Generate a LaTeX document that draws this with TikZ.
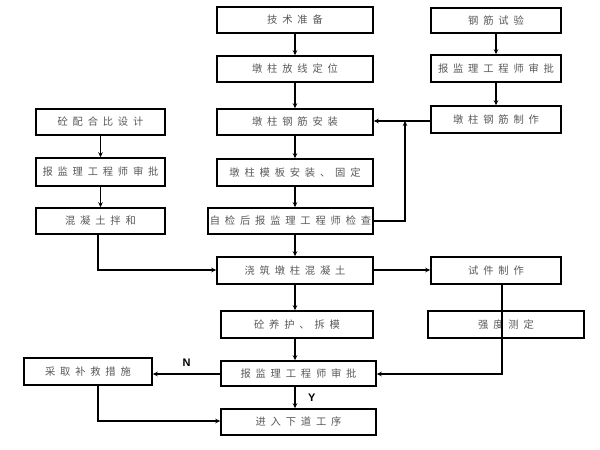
\documentclass[tikz,border=0pt]{standalone}
\usepackage{fontspec}
\newfontfamily\cjk{Noto Sans CJK SC}
\newfontfamily\lab{Liberation Sans}
\usetikzlibrary{arrows.meta}
\newcommand\gp{\hspace{4.8pt}}
\tikzset{
  box/.style={draw, line width=1.5pt, rectangle, inner sep=0pt, font=\cjk\fontsize{10.3}{12}\selectfont, text=black!65},
  arr/.style={line width=1.4pt, -{Stealth[length=5pt,width=4.5pt]}},
  yn/.style={font=\lab\bfseries\fontsize{11}{13}\selectfont}
}
\begin{document}
\begin{tikzpicture}[x=1pt,y=-1pt]
\useasboundingbox[fill=white] (0,0) rectangle (600,450);
% center column
\node[box, minimum width=156pt, minimum height=26pt] (a1) at (295,20) {技\gp{}术\gp{}准\gp{}备};
\node[box, minimum width=156pt, minimum height=26pt] (a2) at (295,69) {墩\gp{}柱\gp{}放\gp{}线\gp{}定\gp{}位};
\node[box, minimum width=156pt, minimum height=26pt] (a3) at (295,122) {墩\gp{}柱\gp{}钢\gp{}筋\gp{}安\gp{}装};
\node[box, minimum width=156pt, minimum height=27pt] (a4) at (295,172.5) {墩\gp{}柱\gp{}模\gp{}板\gp{}安\gp{}装\gp{}、\gp{}固\gp{}定};
\node[box, minimum width=165pt, minimum height=26pt] (a5) at (290.5,221) {自\gp{}检\gp{}后\gp{}报\gp{}监\gp{}理\gp{}工\gp{}程\gp{}师\gp{}检\gp{}查};
\node[box, minimum width=156pt, minimum height=27pt] (a6) at (295,270.5) {浇\gp{}筑\gp{}墩\gp{}柱\gp{}混\gp{}凝\gp{}土};
\node[box, minimum width=152pt, minimum height=27pt] (a7) at (297,324.5) {砼\gp{}养\gp{}护\gp{}、\gp{}拆\gp{}模};
\node[box, minimum width=155pt, minimum height=25pt] (a8) at (298.5,373.5) {报\gp{}监\gp{}理\gp{}工\gp{}程\gp{}师\gp{}审\gp{}批};
\node[box, minimum width=155pt, minimum height=26pt] (a9) at (298.5,422) {进\gp{}入\gp{}下\gp{}道\gp{}工\gp{}序};
% left column
\node[box, minimum width=129pt, minimum height=26pt] (l1) at (100.5,122) {砼\gp{}配\gp{}合\gp{}比\gp{}设\gp{}计};
\node[box, minimum width=129pt, minimum height=28pt] (l2) at (100.5,172) {报\gp{}监\gp{}理\gp{}工\gp{}程\gp{}师\gp{}审\gp{}批};
\node[box, minimum width=129pt, minimum height=26pt] (l3) at (100.5,221) {混\gp{}凝\gp{}土\gp{}拌\gp{}和};
\node[box, minimum width=128pt, minimum height=27pt] (l4) at (88,371.5) {采\gp{}取\gp{}补\gp{}救\gp{}措\gp{}施};
% right column
\node[box, minimum width=130pt, minimum height=25pt] (r1) at (496,20.5) {钢\gp{}筋\gp{}试\gp{}验};
\node[box, minimum width=130pt, minimum height=27pt] (r2) at (496,68.5) {报\gp{}监\gp{}理\gp{}工\gp{}程\gp{}师\gp{}审\gp{}批};
\node[box, minimum width=130pt, minimum height=27pt] (r3) at (496,119.5) {墩\gp{}柱\gp{}钢\gp{}筋\gp{}制\gp{}作};
\node[box, minimum width=130pt, minimum height=27pt] (r4) at (496,270.5) {试\gp{}件\gp{}制\gp{}作};
\node[box, minimum width=156pt, minimum height=27pt] (r5) at (506,324.5) {强\gp{}度\gp{}测\gp{}定};
% coordinates
\coordinate (fb) at (405,221);
\coordinate (fbt) at (405,121);
\coordinate (mx) at (98,270);
\coordinate (sv) at (502,374);
\coordinate (lb) at (98,421);
% center arrows
\draw[arr] (a1.south) -- (a2.north);
\draw[arr] (a2.south) -- (a3.north);
\draw[arr] (a3.south) -- (a4.north);
\draw[arr] (a4.south) -- (a4.south |- a5.north);
\draw[arr] (a1.south |- a5.south) -- (a6.north);
\draw[arr] (a6.south) -- (a6.south |- a7.north);
\draw[arr] (a1.south |- a7.south) -- (a1.south |- a8.north);
\draw[arr] (a1.south |- a8.south) -- (a1.south |- a9.north) node[yn, pos=0.5, right=9pt] {Y};
% left arrows
\draw[arr] (l1.south) -- (l2.north);
\draw[arr] (l2.south) -- (l3.north);
\draw[arr] (mx |- l3.south) -- (mx) -- (a6.west |- mx);
% right arrows
\draw[arr] (r1.south) -- (r2.north);
\draw[arr] (r2.south) -- (r3.north);
\draw[arr] (r3.west |- fbt) -- (a3.east |- fbt);
\draw[arr] (a5.east |- fb) -- (fb) -- (fbt);
\draw[arr] (a6.east |- mx) -- (r4.west |- mx);
\draw[arr] (sv |- r4.south) -- (sv) -- (a8.east |- sv);
% N branch
\draw[arr] (a8.west |- sv) -- (l4.east |- sv) node[yn, pos=0.5, above=3pt] {N};
\draw[arr] (lb |- l4.south) -- (lb) -- (a9.west |- lb);
\end{tikzpicture}
\end{document}
